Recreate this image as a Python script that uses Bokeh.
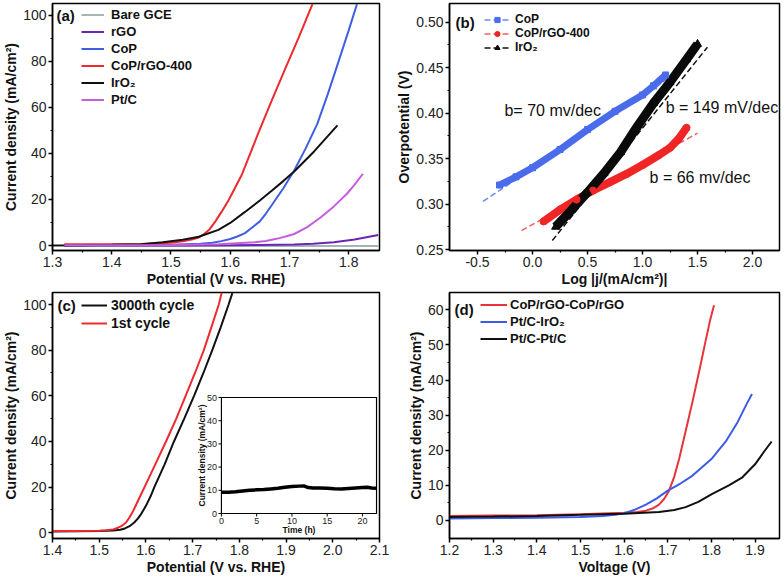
import math
from bokeh.plotting import figure
from bokeh.layouts import column, row
from bokeh.models import (Range1d, FixedTicker, NumeralTickFormatter, Legend,
                          LegendItem, Label)
from bokeh.core.properties import value
from bokeh.embed import file_html
from bokeh.resources import INLINE

FONT = "Liberation Sans"

# ---------------- data: panel (a) ----------------
A_X_TICKS = [1.3, 1.4, 1.5, 1.6, 1.7, 1.8]
A_Y_TICKS = [0, 20, 40, 60, 80, 100]
A_BARE_V = [1.32, 1.85]
A_BARE_J = [-0.2, -0.2]
A_RGO_V = [1.32, 1.50, 1.60, 1.65, 1.708, 1.74, 1.775, 1.81, 1.85]
A_RGO_J = [0.0, 0.0, 0.1, 0.2, 0.4, 0.8, 1.4, 2.6, 4.6]
A_COP_V = [1.32, 1.45, 1.50, 1.55, 1.57, 1.585, 1.60, 1.612, 1.625, 1.637, 1.65,
           1.66, 1.67, 1.69, 1.708, 1.727, 1.747, 1.765, 1.781, 1.80, 1.814]
A_COP_J = [0.1, 0.2, 0.3, 0.8, 1.2, 1.9, 2.8, 3.9, 5.4, 7.8, 10.5,
           13.8, 17.5, 25.0, 32.6, 42.0, 52.9, 66.0, 78.5, 93.5, 105.0]
A_CPR_V = [1.32, 1.40, 1.45, 1.50, 1.52, 1.535, 1.547, 1.555, 1.565, 1.575, 1.585,
           1.597, 1.62, 1.647, 1.67, 1.694, 1.715, 1.739]
A_CPR_J = [0.5, 0.5, 0.7, 1.2, 1.8, 2.6, 3.5, 4.8, 7.0, 10.5, 14.5,
           19.6, 31.0, 48.6, 63.0, 77.5, 90.0, 105.0]
A_IRO_V = [1.30, 1.35, 1.40, 1.45, 1.486, 1.52, 1.547, 1.58, 1.60, 1.625, 1.65,
           1.67, 1.69, 1.708, 1.742, 1.781]
A_IRO_J = [0.0, 0.1, 0.3, 0.6, 1.4, 2.5, 3.8, 6.8, 9.8, 14.6, 19.6,
           23.8, 28.1, 32.2, 41.0, 52.2]
A_PTC_V = [1.32, 1.50, 1.58, 1.641, 1.66, 1.68, 1.695, 1.708, 1.73, 1.753, 1.775,
           1.797, 1.81, 1.824]
A_PTC_J = [0.1, 0.2, 0.5, 1.4, 2.0, 3.0, 4.0, 5.0, 8.0, 12.3, 17.0,
           22.5, 26.5, 31.2]

# ---------------- data: panel (b) ----------------
B_X_TICKS = [-0.5, 0.0, 0.5, 1.0, 1.5, 2.0]
B_Y_TICKS = [0.25, 0.30, 0.35, 0.40, 0.45, 0.50]
B_COP_L = [-0.30, -0.15, 0.0, 0.25, 0.50, 0.75, 1.00, 1.10, 1.21]
B_COP_E = [0.321, 0.330, 0.340, 0.360, 0.382, 0.402, 0.420, 0.430, 0.442]
B_COP_FIT_L = [-0.45, 1.38]
B_COP_FIT_E = [0.303, 0.450]
B_CPR_L = [0.10, 0.25, 0.40, 0.55, 0.70, 0.85, 1.00, 1.15, 1.25, 1.33, 1.40]
B_CPR_E = [0.281, 0.294, 0.305, 0.315, 0.324, 0.333, 0.343, 0.354, 0.362, 0.372, 0.384]
B_CPR_FIT_L = [-0.10, 1.50]
B_CPR_FIT_E = [0.271, 0.378]
B_IRO_L = [0.21, 0.35, 0.50, 0.65, 0.80, 0.95, 1.10, 1.25, 1.40, 1.50]
B_IRO_E = [0.275, 0.293, 0.313, 0.334, 0.357, 0.385, 0.411, 0.434, 0.459, 0.476]
B_IRO_FIT_L = [0.18, 1.59]
B_IRO_FIT_E = [0.260, 0.4725]

# ---------------- data: panel (c) ----------------
C_X_TICKS = [1.4, 1.5, 1.6, 1.7, 1.8, 1.9, 2.0, 2.1]
C_Y_TICKS = [0, 20, 40, 60, 80, 100]
C_1ST_V = [1.40, 1.45, 1.50, 1.515, 1.53, 1.54, 1.55, 1.557, 1.565, 1.572, 1.58,
           1.59, 1.597, 1.62, 1.643, 1.665, 1.685, 1.705, 1.724, 1.740, 1.756, 1.762]
C_1ST_J = [0.8, 0.8, 0.9, 1.1, 1.5, 2.2, 3.3, 4.4, 6.8, 9.3, 12.7,
           17.0, 20.0, 30.0, 40.0, 50.0, 60.0, 70.0, 80.0, 90.0, 100.0, 105.0]
C_3K_V = [1.40, 1.45, 1.50, 1.53, 1.545, 1.555, 1.565, 1.575, 1.583, 1.59, 1.60,
          1.61, 1.618, 1.64, 1.66, 1.682, 1.703, 1.723, 1.742, 1.760, 1.777, 1.785]
C_3K_J = [0.6, 0.7, 0.8, 1.0, 1.3, 1.9, 2.9, 4.5, 6.3, 8.3, 11.8,
          16.0, 20.0, 30.0, 40.0, 50.0, 60.0, 70.0, 80.0, 90.0, 100.0, 105.0]
# inset (chronoamperometry)
I_X_TICKS = [0, 5, 10, 15, 20]
I_Y_TICKS = [0, 10, 20, 30, 40, 50]
I_XLIM = [0, 22]
I_YLIM = [0, 50]
I_T = [0, 1, 2, 3, 4, 5, 6, 7, 8, 9, 10, 11, 11.7, 12.3, 13, 14, 15, 16, 17,
       18, 19, 20, 20.7, 21.3, 22]
I_J = [9.2, 9.2, 9.4, 9.7, 10.0, 10.2, 10.3, 10.6, 10.9, 11.3, 11.6, 11.8, 11.9,
       11.2, 11.0, 11.0, 10.9, 10.7, 10.6, 10.8, 11.0, 11.2, 11.3, 11.0, 10.9]

# ---------------- data: panel (d) ----------------
D_X_TICKS = [1.2, 1.3, 1.4, 1.5, 1.6, 1.7, 1.8, 1.9]
D_Y_TICKS = [0, 10, 20, 30, 40, 50, 60]
D_RED_V = [1.20, 1.30, 1.40, 1.50, 1.60, 1.63, 1.65, 1.665, 1.68, 1.692, 1.703,
           1.715, 1.726, 1.742, 1.757, 1.772, 1.787, 1.797, 1.806]
D_RED_J = [1.3, 1.4, 1.5, 1.8, 2.2, 2.4, 2.8, 3.4, 4.5, 6.2, 8.5,
           12.5, 17.5, 26.0, 34.0, 42.5, 51.3, 57.0, 61.3]
D_BLUE_V = [1.20, 1.30, 1.40, 1.50, 1.55, 1.58, 1.604, 1.625, 1.65, 1.675, 1.70,
            1.73, 1.757, 1.80, 1.833, 1.86, 1.88, 1.893]
D_BLUE_J = [0.6, 0.7, 0.8, 1.0, 1.3, 1.6, 2.2, 3.1, 4.5, 6.3, 8.5,
            10.6, 12.8, 17.5, 22.5, 28.0, 33.0, 36.0]
D_BLK_V = [1.20, 1.30, 1.40, 1.50, 1.60, 1.68, 1.715, 1.741, 1.77, 1.802, 1.84,
           1.871, 1.90, 1.92, 1.938]
D_BLK_J = [1.0, 1.1, 1.3, 1.6, 1.9, 2.4, 3.0, 3.8, 5.3, 7.6, 10.0,
           12.3, 16.0, 19.5, 22.5]

# ---------------- helpers ----------------
def minor_between(ticks):
    return [(a + b) / 2.0 for a, b in zip(ticks[:-1], ticks[1:])]


def make_fig(xr, yr, left, right, top, bottom, xt, yt, xfmt, yfmt, xlabel, ylabel,
             w=392, h=290):
    p = figure(width=w, height=h, x_range=Range1d(*xr), y_range=Range1d(*yr),
               output_backend="svg", toolbar_location=None,
               min_border_left=left, min_border_right=right,
               min_border_top=top, min_border_bottom=bottom)
    p.xgrid.visible = False
    p.ygrid.visible = False
    p.outline_line_color = "black"
    p.outline_line_width = 1.5
    p.outline_line_alpha = 1.0
    p.xaxis.ticker = FixedTicker(ticks=xt, minor_ticks=minor_between(xt))
    p.yaxis.ticker = FixedTicker(ticks=yt, minor_ticks=minor_between(yt))
    p.xaxis.formatter = NumeralTickFormatter(format=xfmt)
    p.yaxis.formatter = NumeralTickFormatter(format=yfmt)
    p.xaxis.axis_label = xlabel
    p.yaxis.axis_label = ylabel
    for ax in (p.xaxis[0], p.yaxis[0]):
        ax.axis_line_width = 1.5
        ax.major_tick_line_width = 1.5
        ax.minor_tick_line_width = 1.2
        ax.major_tick_out = 4
        ax.major_tick_in = 0
        ax.minor_tick_out = 2
        ax.minor_tick_in = 0
        ax.major_label_text_font = FONT
        ax.major_label_text_font_size = "14px"
        ax.major_label_text_color = "#222222"
        ax.major_label_standoff = 2
        ax.axis_label_text_font = FONT
        ax.axis_label_text_font_style = "bold"
        ax.axis_label_text_font_size = "14px"
        ax.axis_label_text_color = "#111111"
        ax.axis_label_standoff = 1
    return p


def add_legend(p, items, left, top, row_h, font_px, glyph_w, standoff, frame_h):
    n = len(items)
    leg = Legend(items=items, location=(left, frame_h - top - n * row_h))
    leg.label_text_font = FONT
    leg.label_text_font_style = "bold"
    leg.label_text_font_size = f"{font_px}px"
    leg.label_text_color = "#111111"
    leg.glyph_width = glyph_w
    leg.glyph_height = row_h
    leg.label_height = row_h
    leg.spacing = 0
    leg.padding = 0
    leg.margin = 0
    leg.label_standoff = standoff
    leg.border_line_alpha = 0
    leg.background_fill_alpha = 0
    p.add_layout(leg)


def panel_tag(p, x, y, text):
    p.add_layout(Label(x=x, y=y, text=text, text_font=FONT, text_font_style="bold",
                       text_font_size="15px", text_baseline="middle",
                       text_color="#111111"))


XLAB_POT = "Potential (V vs. RHE)"
YLAB_J = "Current density (mA/cm\u00b2)"
ROW1_FRAME_H = 290 - 3 - 40
ROW2_FRAME_H = 290 - 2 - 42

# ---------------- panel (a) ----------------
pa = make_fig((1.3, 1.852), (-2.17, 105.2), 48, 13, 3, 40, A_X_TICKS, A_Y_TICKS,
              "0.0", "0", XLAB_POT, YLAB_J)
ra1 = pa.line(A_BARE_V, A_BARE_J, line_color="#A3B5B5", line_width=2)
ra2 = pa.line(A_RGO_V, A_RGO_J, line_color="#6B24B5", line_width=2)
ra3 = pa.line(A_COP_V, A_COP_J, line_color="#3F5FE0", line_width=2)
ra4 = pa.line(A_CPR_V, A_CPR_J, line_color="#EE2A2E", line_width=2)
ra5 = pa.line(A_IRO_V, A_IRO_J, line_color="#111111", line_width=2)
ra6 = pa.line(A_PTC_V, A_PTC_J, line_color="#C45EDF", line_width=2)
add_legend(pa, [LegendItem(label="Bare GCE", renderers=[ra1]),
                LegendItem(label="rGO", renderers=[ra2]),
                LegendItem(label="CoP", renderers=[ra3]),
                LegendItem(label="CoP/rGO-400", renderers=[ra4]),
                LegendItem(label="IrO\u2082", renderers=[ra5]),
                LegendItem(label="Pt/C", renderers=[ra6])],
           left=29, top=3, row_h=17, font_px=13, glyph_w=23, standoff=7,
           frame_h=ROW1_FRAME_H)
panel_tag(pa, 1.3067, 100.0, "(a)")

# ---------------- panel (b) ----------------
pb = make_fig((-0.7545, 2.245), (0.2491, 0.5205), 57, 5, 3, 40, B_X_TICKS, B_Y_TICKS,
              "0.0", "0.00", "Log |j/(mA/cm\u00b2)|", "Overpotential (V)")
fb1 = pb.line(B_COP_FIT_L, B_COP_FIT_E, line_color="#6F8BEF", line_width=1.5, line_dash="6 3")
fb2 = pb.line(B_CPR_FIT_L, B_CPR_FIT_E, line_color="#F06060", line_width=1.5, line_dash="6 3")
fb3 = pb.line(B_IRO_FIT_L, B_IRO_FIT_E, line_color="#111111", line_width=1.5, line_dash="6 3")
pb.line(B_COP_L, B_COP_E, line_color="#4A6CEB", line_width=7)
pb.line(B_CPR_L, B_CPR_E, line_color="#F02525", line_width=8)
pb.line(B_IRO_L, B_IRO_E, line_color="#0A0A0A", line_width=9)
sb1 = pb.scatter(B_COP_L, B_COP_E, marker="square", size=6, color="#4A6CEB")
sb2 = pb.scatter(B_CPR_L, B_CPR_E, marker="circle", size=7, color="#F02525")
sb3 = pb.scatter(B_IRO_L, B_IRO_E, marker="triangle", size=8, color="#0A0A0A")
add_legend(pb, [LegendItem(label="CoP", renderers=[fb1, sb1]),
                LegendItem(label="CoP/rGO-400", renderers=[fb2, sb2]),
                LegendItem(label="IrO\u2082", renderers=[fb3, sb3])],
           left=35, top=12, row_h=13, font_px=12, glyph_w=26, standoff=5,
           frame_h=ROW1_FRAME_H)
panel_tag(pb, -0.70, 0.50, "(b)")
for x, y, t in [(-0.255, 0.403, "b= 70 mv/dec"), (1.21, 0.406, "b = 149 mV/dec"),
                (1.064, 0.329, "b = 66 mv/dec")]:
    pb.add_layout(Label(x=x, y=y, text=t, text_font=FONT, text_font_size="16px",
                        text_baseline="middle", text_color="#111111"))

# ---------------- panel (c) ----------------
C_FRAME_W = 392 - 48 - 13
pc = make_fig((1.4, 2.1), (-2.5, 105.26), 48, 13, 2, 42, C_X_TICKS, C_Y_TICKS,
              "0.0", "0", XLAB_POT, YLAB_J)
rc1 = pc.line(C_3K_V, C_3K_J, line_color="#111111", line_width=2)
rc2 = pc.line(C_1ST_V, C_1ST_J, line_color="#EE2A2E", line_width=2)
add_legend(pc, [LegendItem(label="3000th cycle", renderers=[rc1]),
                LegendItem(label="1st cycle", renderers=[rc2])],
           left=29, top=4, row_h=18, font_px=14, glyph_w=26, standoff=4,
           frame_h=ROW2_FRAME_H)
panel_tag(pc, 1.4106, 99.6, "(c)")

# inset drawn on its own ranges, placed inside panel (c)'s frame
ins_left_px, ins_top_px, ins_w_px, ins_h_px = 171, 105, 157, 116
xs = (I_XLIM[1] - I_XLIM[0]) / ins_w_px
ys = (I_YLIM[1] - I_YLIM[0]) / ins_h_px
ix0 = I_XLIM[0] - ins_left_px * xs
iy1 = I_YLIM[1] + ins_top_px * ys
pc.extra_x_ranges = {"ix": Range1d(ix0, ix0 + C_FRAME_W * xs)}
pc.extra_y_ranges = {"iy": Range1d(iy1 - ROW2_FRAME_H * ys, iy1)}
IR = dict(x_range_name="ix", y_range_name="iy")
pc.quad(left=[I_XLIM[0]], right=[I_XLIM[1]], bottom=[I_YLIM[0]], top=[I_YLIM[1]],
        fill_color="white", line_color="black", line_width=1.2, **IR)
pc.line(I_T, I_J, line_color="black", line_width=3.5, **IR)
pc.segment(x0=[I_XLIM[0]] * len(I_Y_TICKS), y0=I_Y_TICKS,
           x1=[I_XLIM[0] - 3 * xs] * len(I_Y_TICKS), y1=I_Y_TICKS,
           line_color="black", line_width=1, **IR)
pc.segment(x0=I_X_TICKS, y0=[I_YLIM[0]] * len(I_X_TICKS),
           x1=I_X_TICKS, y1=[I_YLIM[0] - 3 * ys] * len(I_X_TICKS),
           line_color="black", line_width=1, **IR)
pc.text(x=[I_XLIM[0] - 4.5 * xs] * len(I_Y_TICKS), y=I_Y_TICKS,
        text=[str(v) for v in I_Y_TICKS], text_font=value(FONT), text_font_size="9px",
        text_align="right", text_baseline="middle", text_color="#222222", **IR)
pc.text(x=I_X_TICKS, y=[I_YLIM[0] - 4 * ys] * len(I_X_TICKS),
        text=[str(v) for v in I_X_TICKS], text_font=value(FONT), text_font_size="9px",
        text_align="center", text_baseline="top", text_color="#222222", **IR)
pc.text(x=[(I_XLIM[0] + I_XLIM[1]) / 2], y=[I_YLIM[0] - 16 * ys], text=["Time (h)"],
        text_font=value(FONT), text_font_size="8.5px", text_font_style="bold",
        text_align="center", text_baseline="middle", text_color="#111111", **IR)
pc.text(x=[I_XLIM[0] - 20 * xs], y=[(I_YLIM[0] + I_YLIM[1]) / 2],
        text=["Current density (mA/cm\u00b2)"], angle=math.pi / 2,
        text_font=value(FONT), text_font_size="8.5px", text_font_style="bold",
        text_align="center", text_baseline="middle", text_color="#111111", **IR)

# ---------------- panel (d) ----------------
pd_ = make_fig((1.2, 1.956), (-5.13, 64.93), 57, 5, 2, 42, D_X_TICKS, D_Y_TICKS,
               "0.0", "0", "Voltage (V)", YLAB_J)
rd1 = pd_.line(D_RED_V, D_RED_J, line_color="#E8333A", line_width=2)
rd2 = pd_.line(D_BLUE_V, D_BLUE_J, line_color="#3C5BE8", line_width=2)
rd3 = pd_.line(D_BLK_V, D_BLK_J, line_color="#111111", line_width=2)
add_legend(pd_, [LegendItem(label="CoP/rGO-CoP/rGO", renderers=[rd1]),
                 LegendItem(label="Pt/C-IrO\u2082", renderers=[rd2]),
                 LegendItem(label="Pt/C-Pt/C", renderers=[rd3])],
           left=31, top=4, row_h=17, font_px=13, glyph_w=27, standoff=3,
           frame_h=ROW2_FRAME_H)
panel_tag(pd_, 1.2115, 60.1, "(d)")

layout = column(row(pa, pb), row(pc, pd_))
open("out.html", "w").write(file_html(layout, INLINE))
